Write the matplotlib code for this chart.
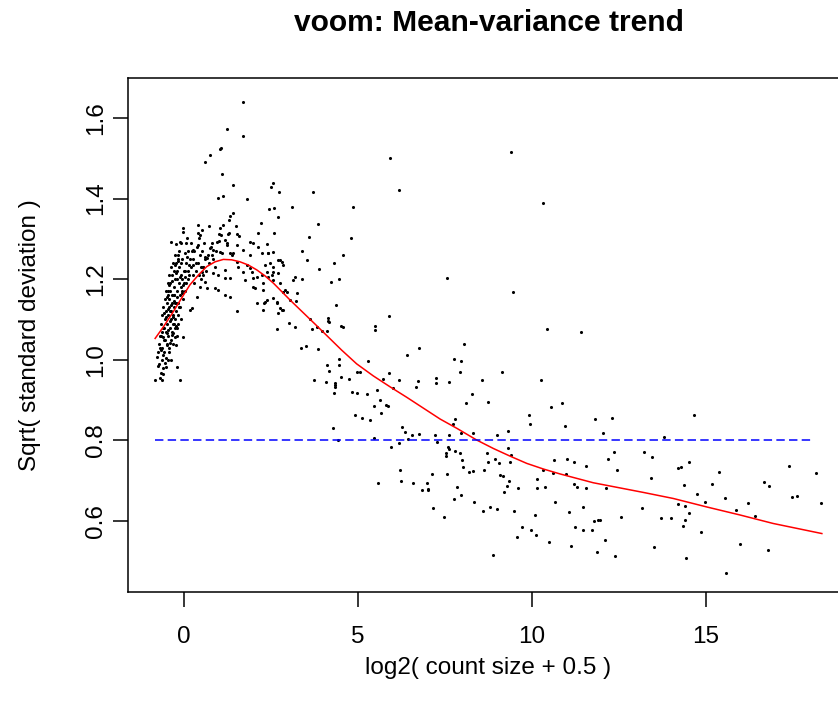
import matplotlib
matplotlib.use("Agg")
import matplotlib.pyplot as plt

plt.rcParams['font.family'] = ['Liberation Sans', 'DejaVu Sans']

# mean log2 count (x) and sqrt(sd) (y) per gene, grouped by region
left_cluster = [
    (-0.83, 0.950), (-0.69, 0.954), (-0.67, 0.966), (-0.64, 0.950), (-0.13, 0.949), (-0.19, 0.981),
    (-0.77, 1.008), (-0.74, 1.020), (-0.69, 1.029), (-0.64, 1.000), (-0.55, 0.991), (-0.52, 0.983),
    (-0.59, 1.012), (-0.50, 1.037), (-0.42, 1.029), (-0.40, 1.041),
    (-0.59, 1.057), (-0.55, 1.049), (-0.50, 1.066), (-0.45, 1.074), (-0.57, 1.078), (-0.35, 1.062),
    (-0.31, 1.066), (-0.26, 1.057), (-0.23, 1.037), (-0.04, 1.056),
    (-0.55, 1.10), (-0.52, 1.12), (-0.50, 1.14), (-0.48, 1.09), (-0.45, 1.11), (-0.43, 1.13),
    (-0.42, 1.15), (-0.40, 1.08), (-0.38, 1.10), (-0.36, 1.12), (-0.35, 1.14), (-0.33, 1.09),
    (-0.31, 1.11), (-0.30, 1.13), (-0.28, 1.16), (-0.27, 1.08), (-0.25, 1.10), (-0.23, 1.12),
    (-0.22, 1.14), (-0.20, 1.17), (-0.18, 1.09), (-0.16, 1.11), (-0.15, 1.13), (-0.45, 1.06),
    (-0.35, 1.07), (-0.20, 1.06), (-0.60, 1.08), (-0.58, 1.05), (-0.62, 1.03), (-0.65, 1.06),
    (-0.45, 1.17), (-0.40, 1.19), (-0.35, 1.21), (-0.30, 1.18), (-0.25, 1.20), (-0.20, 1.22),
    (-0.15, 1.19), (-0.10, 1.21), (-0.05, 1.17), (0.00, 1.19), (-0.12, 1.16), (-0.28, 1.16),
    (0.02, 1.22), (-0.08, 1.24), (-0.18, 1.25),
    (-0.25, 1.26), (-0.15, 1.27), (-0.05, 1.25), (0.05, 1.24), (0.10, 1.27), (0.15, 1.21),
    (0.20, 1.23), (0.25, 1.25), (0.30, 1.27), (0.35, 1.22), (0.40, 1.24), (0.45, 1.26),
    (0.50, 1.20), (0.55, 1.23), (0.60, 1.25), (0.10, 1.20), (0.00, 1.22), (0.30, 1.19),
    (0.45, 1.18), (0.20, 1.29), (0.05, 1.29), (-0.10, 1.29),
    (-0.72, 1.04), (-0.70, 1.06), (-0.66, 1.09), (-0.62, 1.11), (-0.60, 1.13), (-0.56, 1.15),
    (-0.53, 1.17), (-0.47, 1.19), (-0.44, 1.21), (-0.38, 1.23), (-0.33, 1.24), (-0.29, 1.22),
    (-0.24, 1.24), (-0.19, 1.20), (-0.14, 1.23), (-0.09, 1.18), (-0.06, 1.20), (-0.03, 1.15),
    (0.03, 1.17), (0.07, 1.19), (0.12, 1.22), (0.16, 1.25), (0.22, 1.27), (0.27, 1.21),
    (0.33, 1.24), (0.37, 1.28), (0.42, 1.21), (0.48, 1.23), (0.52, 1.27), (0.57, 1.29),
    (0.62, 1.22), (0.68, 1.26), (0.72, 1.24), (0.78, 1.28), (0.83, 1.25), (0.88, 1.23),
    (0.93, 1.27), (-0.48, 1.04), (-0.44, 1.02), (-0.37, 1.05), (-0.32, 1.04), (-0.28, 1.09),
    (-0.21, 1.08), (-0.17, 1.14), (-0.11, 1.13), (-0.08, 1.10), (-0.47, 1.16), (-0.41, 1.17),
    (-0.34, 1.16), (-0.26, 1.14), (-0.39, 1.12), (-0.53, 1.07), (-0.63, 1.07), (-0.71, 0.99),
    (-0.61, 0.98), (-0.57, 1.02), (-0.46, 1.00), (-0.36, 1.00),
    (-0.02, 1.186), (-0.07, 1.165), (0.17, 1.124), (0.22, 1.128), (0.36, 1.157), (0.41, 1.285),
    (0.27, 1.272), (0.03, 1.264), (-0.17, 1.260), (-0.38, 1.292), (-0.23, 1.287), (-0.13, 1.291),
    (-0.51, 1.105), (-0.46, 1.125), (-0.41, 1.095), (-0.37, 1.135), (-0.32, 1.105), (-0.29, 1.145),
    (-0.24, 1.085), (-0.21, 1.155), (-0.57, 1.115), (-0.49, 1.155), (-0.43, 1.185), (-0.34, 1.195),
    (-0.23, 1.215), (-0.11, 1.205), (0.04, 1.205), (0.13, 1.235), (0.26, 1.235), (-0.66, 1.025),
    (-0.74, 0.985), (-0.60, 0.965), (-0.53, 1.005), (-0.27, 1.235), (-0.16, 1.245), (0.08, 1.255),
]

upper_spread = [
    (1.70, 1.640), (1.23, 1.573), (1.70, 1.555), (1.03, 1.522), (1.05, 1.525), (0.75, 1.507),
    (0.60, 1.490), (1.08, 1.461), (1.42, 1.433), (2.55, 1.439), (2.51, 1.428), (2.72, 1.417),
    (0.98, 1.401), (1.12, 1.406), (1.81, 1.400), (3.11, 1.380), (2.43, 1.373), (2.58, 1.376),
    (2.70, 1.353), (1.41, 1.363), (1.31, 1.356), (1.30, 1.347), (2.21, 1.339), (0.39, 1.335),
    (0.73, 1.331), (1.13, 1.334), (1.04, 1.327), (1.49, 1.333), (-0.02, 1.326), (-0.02, 1.317),
    (0.53, 1.321), (0.39, 1.315), (0.46, 1.310), (1.00, 1.313), (1.05, 1.310), (1.26, 1.312),
    (1.30, 1.314), (1.51, 1.311), (1.58, 1.307), (2.14, 1.314), (2.60, 1.314), (0.09, 1.302),
    (0.43, 1.302), (5.92, 1.500), (9.40, 1.515),
]

hump = [
    (0.94, 1.293), (1.18, 1.298), (1.23, 1.289), (1.99, 1.289), (1.90, 1.291), (2.38, 1.287),
    (2.23, 1.264), (2.40, 1.266), (1.90, 1.260), (1.70, 1.272), (0.75, 1.277), (0.84, 1.272),
    (1.03, 1.268), (1.08, 1.264), (1.32, 1.264), (1.37, 1.260), (1.42, 1.266), (0.60, 1.256),
    (0.65, 1.252), (0.80, 1.260), (0.55, 1.231), (0.51, 1.219), (0.55, 1.210), (0.60, 1.194),
    (0.84, 1.215), (0.99, 1.210), (1.18, 1.223), (1.18, 1.202), (1.32, 1.202), (0.65, 1.177),
    (0.89, 1.177), (0.99, 1.173), (1.18, 1.161), (1.32, 1.157), (1.70, 1.219), (1.75, 1.198),
    (1.99, 1.202), (2.09, 1.206), (2.23, 1.210), (1.99, 1.181), (2.04, 1.177), (2.28, 1.190),
    (2.28, 1.173), (2.42, 1.206), (2.52, 1.210), (2.57, 1.198), (2.76, 1.190), (2.85, 1.169),
    (2.90, 1.173), (2.38, 1.148), (2.33, 1.144), (2.66, 1.140), (2.76, 1.128), (3.05, 1.148),
    (3.24, 1.165), (3.14, 1.198), (1.56, 1.231), (1.80, 1.235), (1.90, 1.227), (1.51, 1.243),
    (2.33, 1.235), (2.47, 1.239), (2.57, 1.231), (2.71, 1.248), (2.81, 1.243), (0.80, 1.289),
    (1.51, 1.122), (2.09, 1.142), (2.30, 1.142), (2.28, 1.124), (2.57, 1.153), (2.66, 1.144),
    (2.71, 1.115), (2.81, 1.124), (2.85, 1.124), (2.95, 1.169), (3.22, 1.147), (3.19, 1.206),
    (1.94, 1.219), (2.38, 1.219), (2.57, 1.219), (2.71, 1.215), (2.14, 1.281), (2.57, 1.268),
    (2.76, 1.248), (2.85, 1.235), (2.42, 1.264), (1.53, 1.285), (1.24, 1.285), (1.01, 1.295),
    (2.66, 1.076), (3.03, 1.092), (3.19, 1.082),
]

decline = [
    (3.70, 1.417), (6.19, 1.420), (4.87, 1.379), (3.86, 1.336), (3.59, 1.304), (4.80, 1.301),
    (3.40, 1.271), (4.58, 1.261), (3.54, 1.247), (4.32, 1.239), (3.88, 1.226), (3.39, 1.200),
    (4.45, 1.201), (4.22, 1.194), (7.55, 1.202), (4.37, 1.135), (3.62, 1.101), (4.15, 1.104),
    (4.13, 1.097), (4.17, 1.093), (3.69, 1.076), (3.81, 1.081), (3.97, 1.072), (4.10, 1.072),
    (4.51, 1.084), (4.56, 1.081), (5.50, 1.084), (5.50, 1.074), (5.90, 1.109), (3.36, 1.029),
    (3.50, 1.033), (3.84, 1.026), (6.76, 1.029), (8.04, 1.038),
    (6.40, 1.012), (4.46, 1.003), (5.30, 0.997), (7.76, 1.003), (7.97, 0.997), (4.12, 0.987),
    (4.45, 0.986), (4.18, 0.971), (4.96, 0.970), (5.06, 0.970), (5.88, 0.967), (4.50, 0.958),
    (7.93, 0.970), (7.23, 0.954), (7.24, 0.943), (3.73, 0.949), (4.08, 0.946), (4.34, 0.942),
    (4.35, 0.937), (4.33, 0.932), (4.75, 0.952), (5.71, 0.953), (6.17, 0.949), (6.73, 0.947),
    (6.66, 0.933), (7.61, 0.946), (4.30, 0.918), (4.84, 0.919), (4.98, 0.918), (5.25, 0.914),
    (5.54, 0.924), (6.00, 0.931), (5.62, 0.901), (5.46, 0.885), (5.79, 0.887), (5.87, 0.885),
    (8.09, 0.894), (5.65, 0.869), (4.91, 0.864), (5.11, 0.856), (5.34, 0.851), (7.78, 0.854),
    (7.74, 0.841), (6.26, 0.834), (4.28, 0.831), (6.35, 0.822), (6.56, 0.814), (6.76, 0.815),
    (7.21, 0.813), (7.62, 0.813), (7.96, 0.818), (5.46, 0.805), (4.43, 0.800), (6.45, 0.803),
    (7.26, 0.795), (6.18, 0.793), (5.94, 0.784), (7.59, 0.784), (7.61, 0.779), (7.52, 0.770),
    (7.54, 0.762), (7.79, 0.773), (7.94, 0.769), (7.99, 0.751), (8.01, 0.733), (8.19, 0.721),
    (6.21, 0.727), (6.24, 0.699), (5.57, 0.694), (6.59, 0.695), (6.99, 0.694), (7.13, 0.716),
    (7.55, 0.717), (6.83, 0.677), (7.01, 0.679), (7.01, 0.676), (7.85, 0.685), (7.97, 0.665),
    (7.76, 0.655), (7.16, 0.633), (7.48, 0.611),
    (10.33, 1.389), (9.44, 1.167), (10.44, 1.076), (11.40, 1.070),
]

tail = [
    (9.13, 0.969), (8.55, 0.950), (10.25, 0.950), (8.27, 0.915), (8.74, 0.895), (10.54, 0.882),
    (10.86, 0.892), (9.91, 0.864), (9.94, 0.841), (10.95, 0.836), (11.81, 0.854), (12.31, 0.855),
    (8.30, 0.818), (9.31, 0.823), (9.00, 0.813), (12.05, 0.819), (8.72, 0.768), (9.30, 0.780),
    (9.39, 0.765), (8.94, 0.755), (8.74, 0.746), (9.06, 0.745), (9.38, 0.747), (8.62, 0.727),
    (8.30, 0.725), (9.08, 0.714), (9.16, 0.712), (9.35, 0.700), (9.27, 0.687), (9.20, 0.673),
    (9.61, 0.681), (10.15, 0.704), (10.14, 0.681), (10.37, 0.685), (10.31, 0.727), (10.64, 0.751),
    (11.01, 0.754), (11.22, 0.746), (10.61, 0.718), (10.98, 0.716), (11.22, 0.691), (11.30, 0.685),
    (11.55, 0.683), (11.56, 0.737), (12.19, 0.754), (12.37, 0.771), (12.45, 0.727), (12.14, 0.683),
    (8.34, 0.648), (8.58, 0.626), (8.79, 0.634), (8.99, 0.631), (9.49, 0.626), (10.08, 0.614),
    (10.67, 0.647), (11.05, 0.622), (11.47, 0.636), (11.79, 0.600), (11.91, 0.602), (11.95, 0.602),
    (12.55, 0.609), (13.15, 0.632), (13.23, 0.771), (13.45, 0.760), (13.43, 0.708), (9.70, 0.584),
    (9.98, 0.579), (10.11, 0.566), (9.58, 0.560), (10.50, 0.548), (11.24, 0.584), (11.47, 0.577),
    (11.72, 0.579), (11.12, 0.538), (12.11, 0.552), (11.88, 0.522), (12.39, 0.513), (8.88, 0.516),
    (13.51, 0.535),
    (14.66, 0.862), (13.78, 0.808), (14.51, 0.747), (14.21, 0.731), (14.27, 0.734), (15.38, 0.721),
    (14.36, 0.689), (15.18, 0.693), (14.74, 0.668), (14.21, 0.642), (14.40, 0.637), (14.98, 0.647),
    (15.55, 0.658), (14.52, 0.619), (14.40, 0.603), (14.35, 0.587), (13.71, 0.608), (13.99, 0.607),
    (14.86, 0.574), (15.85, 0.627), (16.21, 0.645), (16.40, 0.613), (16.66, 0.697), (16.80, 0.687),
    (17.38, 0.736), (17.46, 0.660), (17.61, 0.663), (18.15, 0.718), (18.31, 0.644), (15.99, 0.543),
    (16.79, 0.529), (14.43, 0.509), (15.57, 0.470),
]

# lowess trend (red)
trend_x = [-0.83, -0.59, -0.31, -0.07, 0.17, 0.41, 0.65, 0.89, 1.13, 1.37, 1.61, 1.85, 2.09, 2.33,
           2.57, 2.81, 3.05, 3.76, 4.53, 4.96, 5.44, 5.92, 6.40, 6.88, 7.36, 7.84, 8.41, 8.89,
           9.37, 9.85, 10.33, 10.80, 11.28, 11.76, 12.24, 12.72, 13.20, 14.06, 15.02, 15.98,
           16.93, 18.33]
trend_y = [1.053, 1.082, 1.119, 1.153, 1.186, 1.210, 1.231, 1.243, 1.249, 1.248, 1.243, 1.235, 1.223,
           1.208, 1.190, 1.169, 1.148, 1.089, 1.024, 0.990, 0.960, 0.933, 0.907, 0.880, 0.853,
           0.830, 0.801, 0.780, 0.761, 0.743, 0.729, 0.717, 0.706, 0.695, 0.687, 0.679, 0.671,
           0.656, 0.635, 0.615, 0.594, 0.569]

ref_level = 0.8
ref_x = [-0.83, 18.08]

points = left_cluster + upper_spread + hump + decline + tail
xs = [p[0] for p in points]
ys = [p[1] for p in points]

fig = plt.figure(figsize=(8.38, 7.13), dpi=100)
ax = fig.add_axes([128 / 838, (713 - 592) / 713, (849 - 128) / 838, (592 - 78) / 713])

ax.scatter(xs, ys, s=5, c='black', linewidths=0, zorder=3)
ax.plot(trend_x, trend_y, color='red', lw=1.1, zorder=4)
ax.plot(ref_x, [ref_level, ref_level], color='blue', lw=1.1, dashes=(5.5, 2.8), zorder=4)

ax.set_xlim(-1.61, 19.11)
ax.set_ylim(0.424, 1.699)
ax.set_xticks([0, 5, 10, 15])
ax.set_yticks([0.6, 0.8, 1.0, 1.2, 1.4, 1.6])
ax.set_yticklabels(['0.6', '0.8', '1.0', '1.2', '1.4', '1.6'], rotation=90, va='center')

for sp in ax.spines.values():
    sp.set_linewidth(1.1)
ax.tick_params(direction='out', length=10.5, width=1.1, labelsize=17.5)
ax.tick_params(axis='x', pad=14)
ax.tick_params(axis='y', pad=4.5)

ax.set_xlabel("log2( count size + 0.5 )", fontsize=17.5, labelpad=6.5)
ax.set_ylabel("Sqrt( standard deviation )", fontsize=17.5, labelpad=31.5)
fig.text(488.5 / 838, 1 - 23 / 713, "voom: Mean-variance trend", ha='center', va='center',
         fontsize=21.6, fontweight='bold')

fig.savefig("out.png", dpi=100)
